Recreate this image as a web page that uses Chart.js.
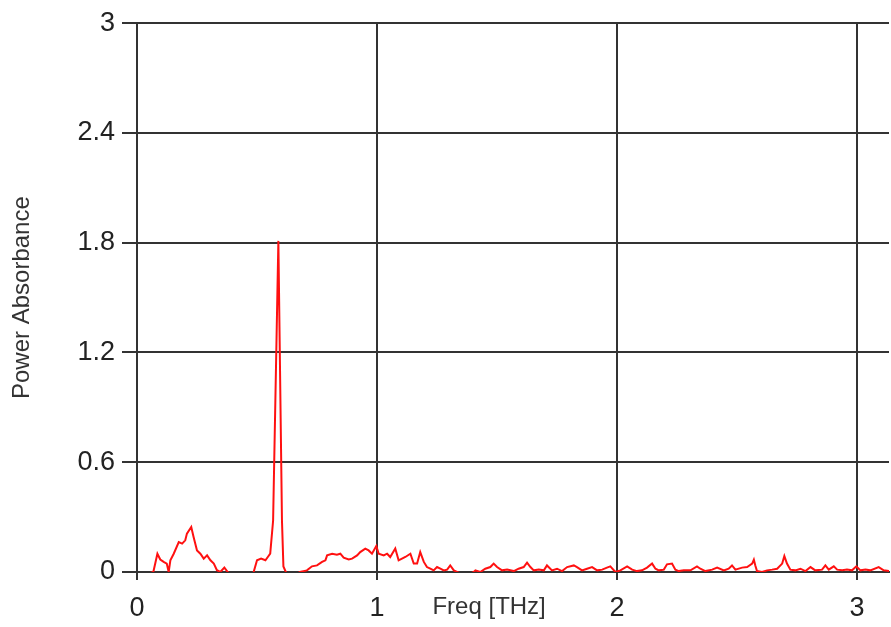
<!DOCTYPE html>
<html>
<head>
<meta charset="utf-8">
<script src="https://cdn.jsdelivr.net/npm/chart.js@4.4.1/dist/chart.umd.min.js"></script>
<style>
  html, body { margin: 0; padding: 0; background: #fff; }
  #wrap { width: 891px; height: 627px; }
</style>
</head>
<body>
<div id="wrap"><canvas id="spectrum" width="891" height="627"></canvas></div>
<script>
const freq = [
  0.000, 0.068, 0.085, 0.097, 0.111, 0.124, 0.132, 0.139, 0.153, 0.174, 0.188, 0.201, 0.208, 0.226, 0.236,
  0.250, 0.264, 0.278, 0.292, 0.306, 0.320, 0.333, 0.347, 0.364, 0.378, 0.400, 0.470, 0.486, 0.500, 0.517,
  0.535, 0.545, 0.555, 0.567, 0.589, 0.604, 0.610, 0.620, 0.640, 0.679, 0.708, 0.729, 0.750, 0.771, 0.785,
  0.792, 0.813, 0.833, 0.847, 0.861, 0.882, 0.896, 0.917, 0.930, 0.951, 0.965, 0.979, 0.997, 1.007, 1.028,
  1.042, 1.055, 1.076, 1.090, 1.104, 1.118, 1.139, 1.153, 1.167, 1.180, 1.195, 1.208, 1.222, 1.236, 1.250,
  1.264, 1.278, 1.292, 1.305, 1.320, 1.333, 1.370, 1.403, 1.410, 1.430, 1.451, 1.472, 1.486, 1.500, 1.521,
  1.542, 1.570, 1.590, 1.611, 1.625, 1.639, 1.653, 1.674, 1.695, 1.708, 1.729, 1.750, 1.771, 1.792, 1.820,
  1.833, 1.854, 1.875, 1.896, 1.917, 1.938, 1.958, 1.972, 1.993, 2.014, 2.042, 2.063, 2.083, 2.104, 2.125,
  2.146, 2.160, 2.174, 2.195, 2.208, 2.229, 2.243, 2.257, 2.278, 2.306, 2.333, 2.347, 2.368, 2.396, 2.417,
  2.445, 2.465, 2.479, 2.493, 2.521, 2.542, 2.563, 2.570, 2.576, 2.583, 2.604, 2.625, 2.646, 2.667, 2.688,
  2.697, 2.708, 2.722, 2.743, 2.764, 2.785, 2.806, 2.826, 2.854, 2.868, 2.882, 2.903, 2.917, 2.938, 2.958,
  2.979, 2.997, 3.014, 3.035, 3.055, 3.090, 3.111, 3.137
];
const absorbance = [
  -0.03, 0.000, 0.100, 0.068, 0.055, 0.046, 0.000, 0.064, 0.100, 0.164, 0.155, 0.173, 0.210, 0.246, 0.190,
  0.118, 0.100, 0.073, 0.091, 0.064, 0.046, 0.010, 0.000, 0.024, 0.000, -0.03, -0.03, 0.000, 0.064, 0.073,
  0.064, 0.082, 0.100, 0.280, 1.810, 0.280, 0.030, 0.000, -0.03, 0.000, 0.009, 0.031, 0.036, 0.055, 0.064,
  0.091, 0.100, 0.095, 0.100, 0.078, 0.068, 0.073, 0.091, 0.109, 0.128, 0.118, 0.100, 0.142, 0.100, 0.091,
  0.100, 0.082, 0.128, 0.064, 0.073, 0.082, 0.100, 0.046, 0.046, 0.109, 0.055, 0.027, 0.018, 0.009, 0.027,
  0.018, 0.009, 0.013, 0.036, 0.009, 0.000, -0.02, 0.000, 0.009, 0.000, 0.018, 0.027, 0.046, 0.027, 0.009,
  0.013, 0.005, 0.018, 0.027, 0.051, 0.027, 0.009, 0.013, 0.009, 0.036, 0.009, 0.018, 0.005, 0.027, 0.036,
  0.027, 0.009, 0.018, 0.027, 0.009, 0.013, 0.024, 0.031, 0.000, 0.009, 0.031, 0.013, 0.005, 0.009, 0.024,
  0.046, 0.018, 0.009, 0.013, 0.042, 0.046, 0.013, 0.005, 0.009, 0.009, 0.031, 0.018, 0.005, 0.013, 0.024,
  0.009, 0.018, 0.036, 0.013, 0.024, 0.027, 0.046, 0.068, 0.036, 0.005, 0.000, 0.009, 0.013, 0.018, 0.046,
  0.087, 0.046, 0.013, 0.009, 0.018, 0.005, 0.027, 0.009, 0.013, 0.036, 0.013, 0.031, 0.013, 0.009, 0.013,
  0.009, 0.031, 0.009, 0.013, 0.009, 0.027, 0.009, 0.005
];

// Tick values and labels
const xTicks = [0, 1, 2, 3];
const yTicks = [0, 0.6, 1.2, 1.8, 2.4, 3];
const yTickLabels = ["0", "0.6", "1.2", "1.8", "2.4", "3"];
const xTitle = "Freq [THz]";
const yTitle = "Power Absorbance";
const xTitleAt = 1.467; // centre of the x title, in THz (sits on the tick label row)

const gridColor = "#333";
const labelFont = "'Liberation Sans', Arial, sans-serif";

// The x title sits in line with the tick labels, not centred under the axis
const xTitlePlugin = {
    id: "xTitleInline",
    afterDraw(chart) {
        const ctx = chart.ctx;
        const xs = chart.scales.x;
        ctx.save();
        ctx.font = "24px " + labelFont;
        ctx.fillStyle = "#333";
        ctx.textAlign = "center";
        ctx.textBaseline = "middle";
        ctx.fillText(xTitle, xs.getPixelForValue(xTitleAt), 607);
        ctx.restore();
    }
};

const ctx = document.getElementById("spectrum").getContext("2d");
new Chart(ctx, {
    type: "line",
    data: {
        datasets: [{
            data: freq.map((f, i) => ({ x: f, y: absorbance[i] })),
            borderColor: "#ff1010",
            borderWidth: 2,
            pointRadius: 0,
            tension: 0,
            fill: false
        }]
    },
    options: {
        responsive: false,
        animation: false,
        devicePixelRatio: 1,
        layout: { padding: { top: 22, right: 2, bottom: 0, left: 0 } },
        plugins: {
            legend: { display: false },
            tooltip: { enabled: false }
        },
        scales: {
            x: {
                type: "linear",
                min: 0,
                max: 3.133,
                afterBuildTicks: (scale) => { scale.ticks = xTicks.map(v => ({ value: v })); },
                afterFit: (scale) => { scale.height = 55; },
                grid: { color: gridColor, lineWidth: 2, tickLength: 8 },
                border: { color: gridColor, width: 2 },
                ticks: {
                    padding: 12,
                    color: "#222",
                    font: { family: labelFont, size: 27 },
                    maxRotation: 0
                }
            },
            y: {
                min: 0,
                max: 3,
                afterBuildTicks: (scale) => { scale.ticks = yTicks.map(v => ({ value: v })); },
                afterFit: (scale) => { scale.width = 137; },
                grid: { color: gridColor, lineWidth: 2, tickLength: 15 },
                border: { color: gridColor, width: 2 },
                ticks: {
                    padding: 7,
                    color: "#222",
                    font: { family: labelFont, size: 27 },
                    callback: (value) => yTickLabels[yTicks.indexOf(value)]
                },
                title: {
                    display: true,
                    text: yTitle,
                    color: "#333",
                    font: { family: labelFont, size: 24 },
                    padding: { top: 8, bottom: 0 }
                }
            }
        }
    },
    plugins: [xTitlePlugin]
});
</script>
</body>
</html>
